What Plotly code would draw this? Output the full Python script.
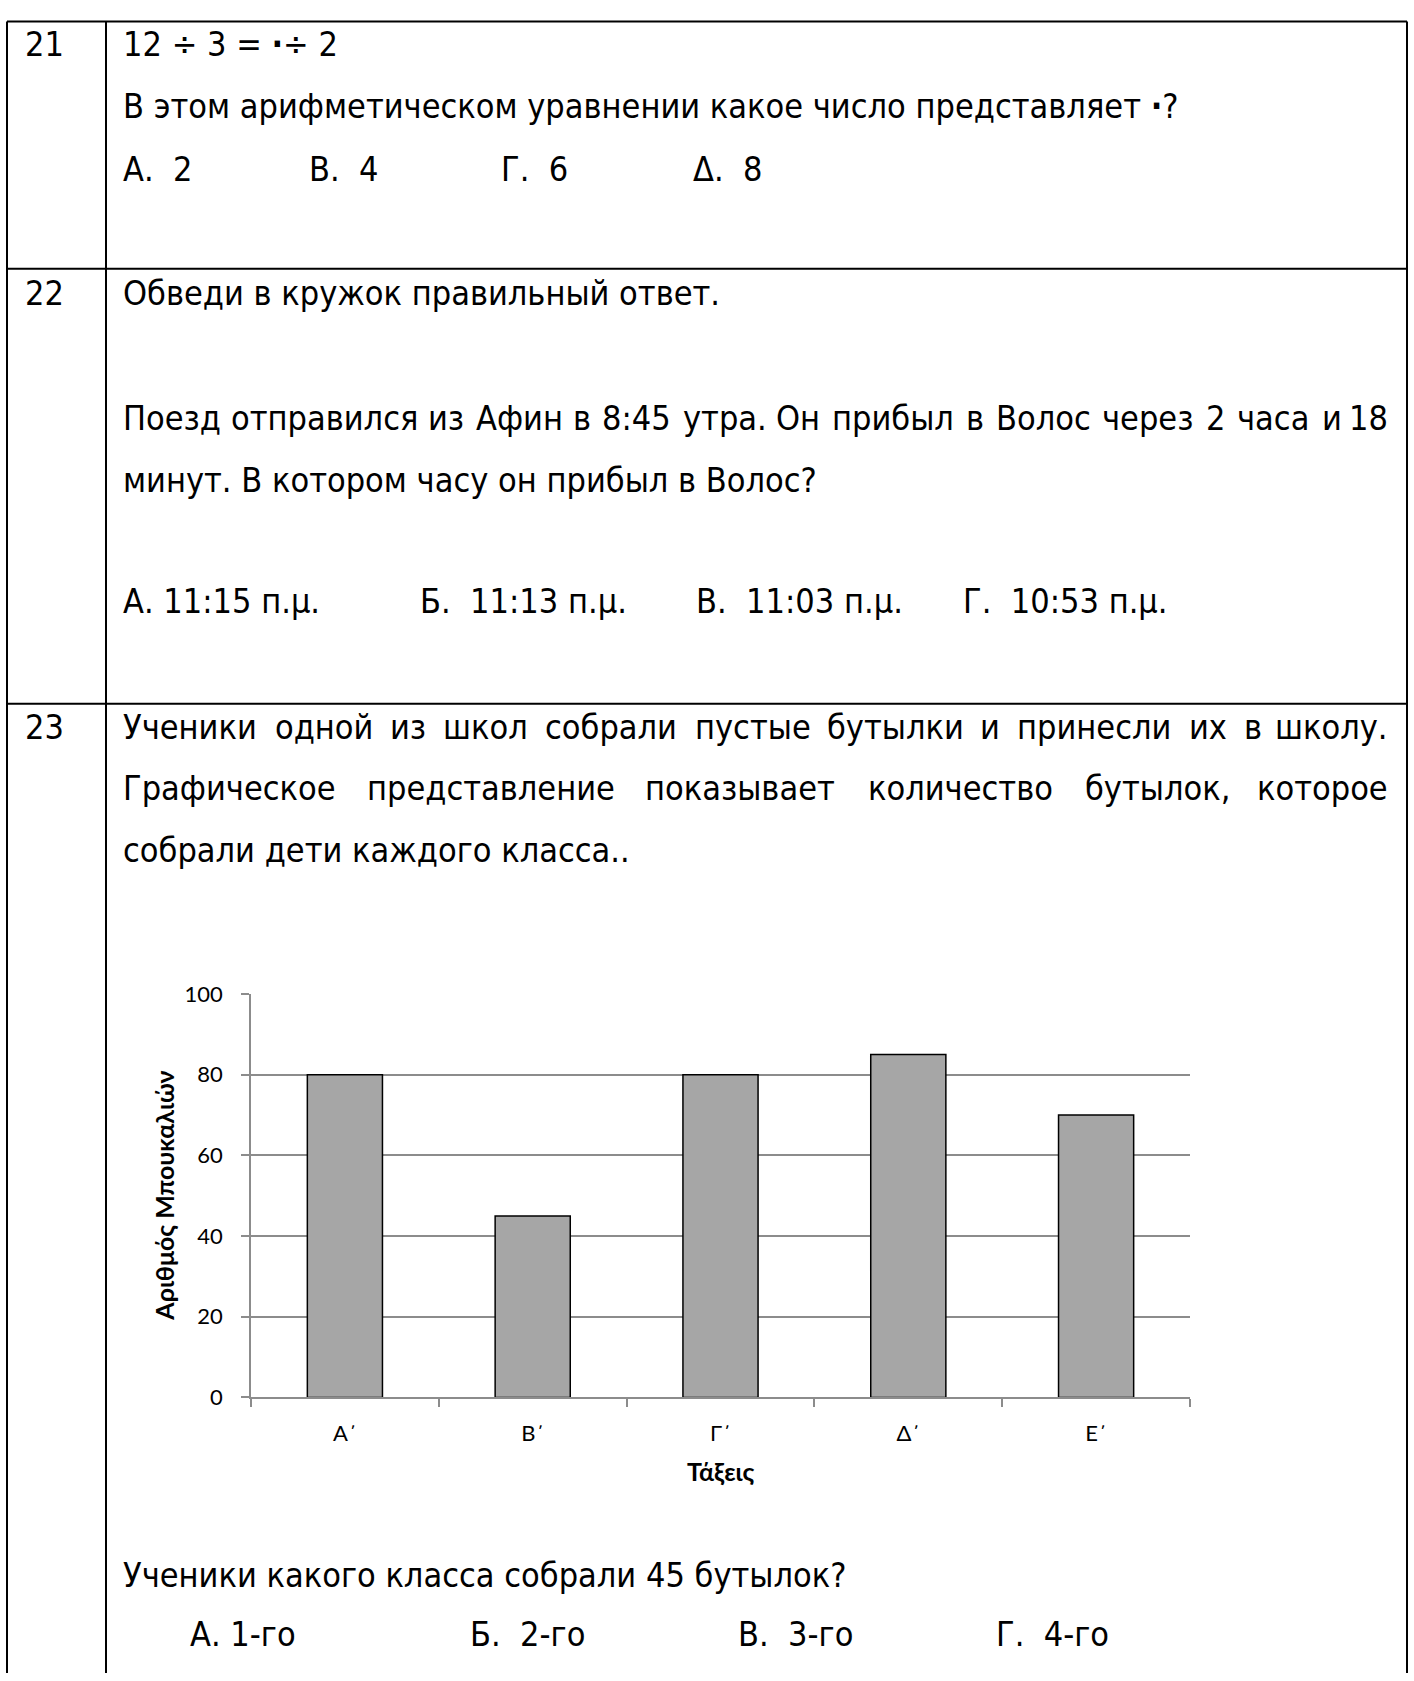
import plotly.graph_objects as go

W, H = 1414, 1681

# ---- chart data ----
classes = ["Α΄", "Β΄", "Γ΄", "Δ΄", "Ε΄"]
bottles = [80, 45, 80, 85, 70]
y_ticks = [0, 20, 40, 60, 80, 100]
y_title = "Αριθμός Μπουκαλιών"
x_title = "Τάξεις"

# ---- page text ----
DOT = "<b>·</b>"
q_numbers = ["21", "22", "23"]
q21_lines = ["12 ÷ 3 = " + DOT + "÷ 2",
             "В этом арифметическом уравнении какое число представляет " + DOT + "?"]
q21_options = ["А.\u00a0 2", "В.\u00a0 4", "Г.\u00a0 6", "Δ.\u00a0 8"]
q22_first = "Обведи в кружок правильный ответ."
q22_just = "Поезд отправился из Афин в 8:45 утра. Он прибыл в Волос через 2 часа и 18"
q22_second = "минут. В котором часу он прибыл в Волос?"
q22_options = ["А. 11:15 п.μ.", "Б.\u00a0 11:13 п.μ.", "В.\u00a0 11:03 п.μ.", "Г.\u00a0 10:53 п.μ."]
q23_just1 = "Ученики одной из школ собрали пустые бутылки и принесли их в школу."
q23_just2 = "Графическое представление показывает количество бутылок, которое"
q23_third = "собрали дети каждого класса.."
q23_question = "Ученики какого класса собрали 45 бутылок?"
q23_options = ["А. 1-го", "Б.\u00a0 2-го", "В.\u00a0 3-го", "Г.\u00a0 4-го"]

# ---- layout helpers (pixel -> paper) ----
def px(x):
    return x / W
def py(y):
    return 1 - y / H

FS = 34
FAMILY = "DejaVu Sans Condensed, DejaVu Sans"
TXT_FONT = dict(family=FAMILY, size=FS, color="black")
CH_FONT = dict(family="Lato, Carlito, sans-serif", size=22, color="black")
CH_BOLD = dict(family="Lato, Carlito, sans-serif", size=25, color="black", weight="bold")

# approximate advance widths (em) used only to justify lines like the reference
EM = {' ': 0.318, '.': 0.318, ',': 0.318, ':': 0.337, '?': 0.531,
      'А': 0.684, 'Б': 0.686, 'В': 0.686, 'Г': 0.557, 'О': 0.787, 'П': 0.752, 'У': 0.652,
      'а': 0.613, 'б': 0.614, 'в': 0.590, 'г': 0.497, 'д': 0.635, 'е': 0.615, 'ж': 0.896,
      'з': 0.535, 'и': 0.650, 'й': 0.650, 'к': 0.584, 'л': 0.635, 'м': 0.745, 'н': 0.650,
      'о': 0.612, 'п': 0.650, 'р': 0.635, 'с': 0.550, 'т': 0.524, 'у': 0.592, 'ф': 0.80,
      'х': 0.592, 'ц': 0.671, 'ч': 0.607, 'ш': 0.918, 'щ': 0.928, 'ъ': 0.732, 'ы': 0.822,
      'ь': 0.619, 'э': 0.550, 'ю': 0.872, 'я': 0.598}
for d in "0123456789":
    EM[d] = 0.636
COND = 0.9

def text_w(s, size):
    return sum(EM.get(c, 0.6) for c in s) * size * COND

annotations = []
def add_text(t, x, y, anchor="left", font=TXT_FONT):
    annotations.append(dict(text=t, x=px(x), y=py(y), xref="paper", yref="paper",
                            xanchor=anchor, yanchor="middle", showarrow=False, font=font))

L = 121
R = 1390

def justify(line, y):
    words = line.split(" ")
    size = FS
    total = sum(text_w(w, size) for w in words)
    gap = (R - L - total) / (len(words) - 1)
    min_gap = 0.22 * size
    if gap < min_gap:
        size = FS * (R - L - min_gap * (len(words) - 1)) / total
        total = sum(text_w(w, size) for w in words)
        gap = (R - L - total) / (len(words) - 1)
    f = dict(TXT_FONT, size=size)
    x = L
    for i, w in enumerate(words):
        if i == len(words) - 1:
            add_text(w, R, y, anchor="right", font=f)
        else:
            add_text(w, x, y, font=f)
        x += text_w(w, size) + gap

# question numbers
for t, y in zip(q_numbers, [30.5, 284, 725]):
    add_text(t, 23, y)

# Q21
add_text(q21_lines[0], L, 30.5)
add_text(q21_lines[1], L, 94)
for t, x in zip(q21_options, [121, 307, 499, 691]):
    add_text(t, x, 157.5)

# Q22
add_text(q22_first, L, 284)
justify(q22_just, 411)
add_text(q22_second, L, 473.5)
for t, x in zip(q22_options, [121, 418, 694, 961]):
    add_text(t, x, 597)

# Q23
justify(q23_just1, 725)
justify(q23_just2, 787)
add_text(q23_third, L, 849.5)
add_text(q23_question, L, 1586)
for t, x in zip(q23_options, [187.5, 468, 736, 994]):
    add_text(t, x, 1646)

# chart axis titles
annotations.append(dict(text=y_title, x=px(164), y=py(1201), xref="paper", yref="paper",
                        textangle=-90, xanchor="center", yanchor="middle", showarrow=False,
                        font=CH_BOLD))
annotations.append(dict(text=x_title, x=px(720.5), y=py(1481), xref="paper", yref="paper",
                        xanchor="center", yanchor="middle", showarrow=False, font=CH_BOLD))

# table lines
LINE = dict(color="black", width=2)
shapes = []
def hline(y, x0=7, x1=1407):
    shapes.append(dict(type="line", xref="paper", yref="paper", x0=px(x0), x1=px(x1),
                       y0=py(y), y1=py(y), line=LINE))
def vline(x, y0=7.5, y1=H + 5):
    shapes.append(dict(type="line", xref="paper", yref="paper", x0=px(x), x1=px(x),
                       y0=py(y0), y1=py(y1), line=LINE))
for y in [7.5, 259, 701]:
    hline(y)
for x in [7, 106, 1407]:
    vline(x)

GRID = "#8C8C8C"
fig = go.Figure(go.Bar(x=classes, y=bottles, width=0.4,
                       marker=dict(color="#A6A6A6", line=dict(color="black", width=1.5))))
fig.update_layout(
    width=W, height=H, margin=dict(l=0, r=0, t=0, b=0),
    paper_bgcolor="white", plot_bgcolor="white", showlegend=False,
    annotations=annotations, shapes=shapes,
    xaxis=dict(domain=[px(251), px(1190)], showline=True, linecolor=GRID, linewidth=1.5,
               ticks="outside", tickson="boundaries", ticklen=8, tickcolor=GRID, tickwidth=1.5,
               tickfont=CH_FONT, ticklabelstandoff=15, showgrid=False, zeroline=False),
    yaxis=dict(domain=[py(1406), py(996)], range=[0, 100], tickvals=y_ticks,
               showline=True, linecolor=GRID, linewidth=1.5, ticks="outside", ticklen=8,
               tickcolor=GRID, tickwidth=1.5, tickfont=CH_FONT, ticklabelstandoff=14,
               showgrid=True, gridcolor=GRID, gridwidth=1.5, zeroline=False),
)
fig.write_html("out.html", config={"displayModeBar": False},
               post_script="document.documentElement.style.overflow='hidden';"
                           "document.body.style.margin='0';document.body.style.overflow='hidden';")
